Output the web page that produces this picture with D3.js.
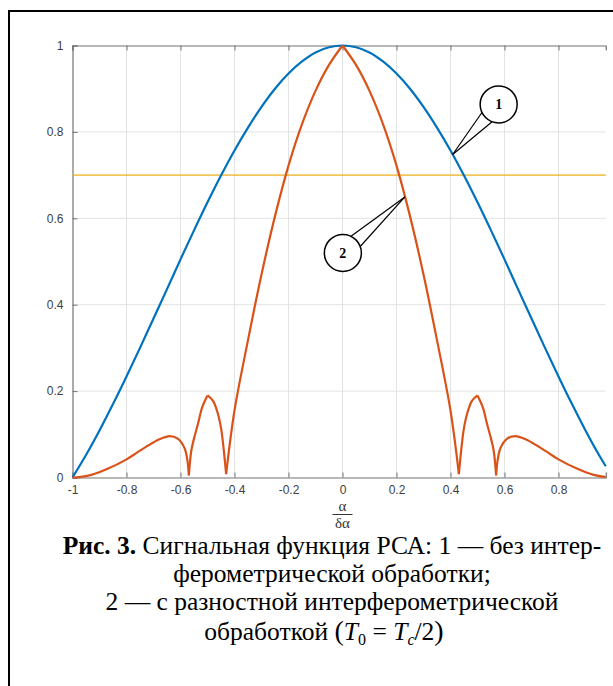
<!DOCTYPE html>
<html><head><meta charset="utf-8">
<script src="https://cdn.jsdelivr.net/npm/d3@7"></script>
<style>body{margin:0;background:#fff}svg{display:block}</style>
</head><body><svg id="c" width="613" height="686"></svg>
<script>
// ---- data ----
const blueX = [-1,-0.95,-0.9,-0.85,-0.8,-0.75,-0.7,-0.65,-0.6,-0.55,-0.5,-0.45,-0.4,-0.35,-0.3,-0.25,-0.2,-0.15,-0.1,-0.05,0,
  0.05,0.1,0.15,0.2,0.25,0.3,0.35,0.4,0.45,0.5,0.55,0.6,0.65,0.7,0.75,0.8,0.85,0.9,0.95,0.975];
const blueY = [0,0.052,0.109,0.170,0.234,0.300,0.368,0.436,0.505,0.572,0.637,0.699,0.757,0.810,0.858,0.900,0.935,0.963,0.984,0.996,1,
  0.996,0.984,0.963,0.935,0.900,0.858,0.810,0.757,0.699,0.637,0.572,0.505,0.436,0.368,0.300,0.234,0.170,0.109,0.052,0.026];
const orangeX = [-1,-0.975,-0.93,-0.87,-0.8,-0.76,-0.72,-0.68,-0.64,-0.61,-0.585,-0.575,-0.569,-0.56,-0.55,-0.535,-0.52,-0.5,-0.48,-0.465,-0.45,-0.44,-0.431,
  -0.4,-0.35,-0.3,-0.25,-0.2,-0.15,-0.1,-0.05,0,0.05,0.1,0.15,0.2,0.25,0.3,0.35,0.4,
  0.431,0.44,0.45,0.465,0.48,0.5,0.52,0.535,0.55,0.56,0.569,0.575,0.585,0.61,0.64,0.68,0.72,0.76,0.8,0.87,0.93,0.975];
const orangeY = [0,0.001,0.006,0.02,0.042,0.058,0.074,0.088,0.096,0.09,0.068,0.042,0.005,0.062,0.09,0.125,0.162,0.19,0.178,0.155,0.115,0.065,0.008,
  0.155,0.318,0.47,0.605,0.722,0.818,0.895,0.955,1,0.955,0.895,0.818,0.722,0.605,0.47,0.318,0.155,
  0.008,0.065,0.115,0.155,0.178,0.19,0.162,0.125,0.09,0.062,0.005,0.042,0.068,0.09,0.096,0.088,0.074,0.058,0.042,0.02,0.006,0.001];
const orangeCusps = [-0.569,-0.5,-0.431,0,0.431,0.5,0.569];
const levelValue = 0.7;
const xDomain = [-1, 0.975];
const xTickValues = [-1,-0.8,-0.6,-0.4,-0.2,0,0.2,0.4,0.6,0.8];
const yTickValues = [0,0.2,0.4,0.6,0.8,1];
const callouts = [{label:"1", series:"blue", x:0.408, dx:46, dy:-50},
                  {label:"2", series:"orange", x:0.231, dx:-62, dy:56}];
const captionLine1Bold = "Рис. 3.";
const captionLines = [" Сигнальная функция РСА: 1 — без интер-",
  "ферометрической обработки;",
  "2 — с разностной интерферометрической",
  "обработкой "];

// ---- layout ----
const svg = d3.select("#c");
const L = 72.5, R = 605.75, T = 45.5, B = 477.5;
const x = d3.scaleLinear().domain(xDomain).range([L, R]);
const y = d3.scaleLinear().domain([0,1]).range([B, T]);
const C = {blue:"#0072BD", orange:"#D95319", yellow:"#EDB120"};
const fmt = d => String(d).replace("\u2212","-");

// outer frame
svg.append("rect").attr("x",9).attr("y",11).attr("width",700).attr("height",800)
  .attr("fill","none").attr("stroke","#000").attr("stroke-width",2);

// grid
const g = svg.append("g");
g.selectAll(".gx").data(xTickValues.filter(d=>d!==xDomain[0])).join("line")
  .attr("x1",d=>x(d)).attr("x2",d=>x(d)).attr("y1",T).attr("y2",B)
  .attr("stroke","#e3e3e3").attr("stroke-width",1);
g.selectAll(".gy").data(yTickValues.filter(d=>d>0&&d<1)).join("line")
  .attr("x1",L).attr("x2",R).attr("y1",d=>y(d)).attr("y2",d=>y(d))
  .attr("stroke","#e3e3e3").attr("stroke-width",1);

// axes
const axCol = "#737373";
const xb = svg.append("g").attr("transform",`translate(0,${B})`)
  .call(d3.axisBottom(x).tickValues(xTickValues).tickSize(-5).tickPadding(8).tickFormat(fmt));
const xt = svg.append("g").attr("transform",`translate(0,${T})`)
  .call(d3.axisTop(x).tickValues(xTickValues).tickSize(-5).tickFormat(""));
const yl = svg.append("g").attr("transform",`translate(${L},0)`)
  .call(d3.axisLeft(y).tickValues(yTickValues).tickSize(-5).tickPadding(9).tickFormat(fmt));
[xb,xt,yl].forEach(a=>{
  a.select(".domain").attr("stroke",axCol).attr("stroke-width",1.2);
  a.selectAll(".tick line").attr("stroke",axCol);
  a.selectAll("text").attr("fill","#404040").attr("font-family","Liberation Sans, Arial, sans-serif").attr("font-size",12);
});
xb.selectAll(".tick line").filter(d=>d===xDomain[0]).remove();

// lines
const pts = (xs, ys) => xs.map((v,i)=>[v, ys[i]]);
const line = d3.line().x(d=>x(d[0])).y(d=>y(d[1])).curve(d3.curveCatmullRom.alpha(0.5));
const plot = svg.append("g");
plot.append("line").attr("x1",L).attr("x2",R).attr("y1",y(levelValue)).attr("y2",y(levelValue))
  .attr("stroke",C.yellow).attr("stroke-opacity",0.75).attr("stroke-width",1.6);
plot.append("path").attr("d",line(pts(blueX,blueY))).attr("fill","none")
  .attr("stroke",C.blue).attr("stroke-width",2.2);
// orange split at cusps
const op = pts(orangeX, orangeY);
const segs = [];
let cur = [];
op.forEach(p=>{
  cur.push(p);
  if (orangeCusps.includes(p[0])) { segs.push(cur); cur=[p]; }
});
segs.push(cur);
segs.filter(s=>s.length>1).forEach(s=>{
  plot.append("path").attr("d",line(s)).attr("fill","none")
    .attr("stroke",C.orange).attr("stroke-width",2.2).attr("stroke-linejoin","round");
});

// callouts
const interp = (xs, ys, v) => {
  for (let i=1;i<xs.length;i++) if (v<=xs[i]) { const t=(v-xs[i-1])/(xs[i]-xs[i-1]); return ys[i-1]+t*(ys[i]-ys[i-1]); }
  return ys[ys.length-1];
};
callouts.forEach(c=>{
  const ys = c.series==="blue"?blueY:orangeY, xs = c.series==="blue"?blueX:orangeX;
  const tx = x(c.x), ty = y(interp(xs, ys, c.x));
  const cx = tx + c.dx, cy = ty + c.dy, r = 18.5;
  const ang = Math.atan2(ty-cy, tx-cx);
  [-0.38, 0.38].forEach(a=>{
    svg.append("line").attr("x1",tx).attr("y1",ty)
      .attr("x2",cx+r*Math.cos(ang+a)).attr("y2",cy+r*Math.sin(ang+a))
      .attr("stroke","#000").attr("stroke-width",1.2);
  });
  svg.append("circle").attr("cx",cx).attr("cy",cy).attr("r",r)
    .attr("fill","#fff").attr("stroke","#000").attr("stroke-width",1.5);
  svg.append("text").attr("x",cx).attr("y",cy+5).attr("text-anchor","middle")
    .attr("font-family","Liberation Serif, Times New Roman, serif").attr("font-weight","bold")
    .attr("font-size",14).text(c.label);
});

// x label fraction
const fx = x(0);
const serif = "Liberation Serif, Times New Roman, serif";
svg.append("text").attr("x",fx).attr("y",511).attr("text-anchor","middle")
  .attr("font-family",serif).attr("font-size",15).attr("fill","#333").text("α");
svg.append("line").attr("x1",fx-10).attr("x2",fx+10).attr("y1",514.5).attr("y2",514.5)
  .attr("stroke","#333").attr("stroke-width",1);
svg.append("text").attr("x",fx).attr("y",527.5).attr("text-anchor","middle")
  .attr("font-family",serif).attr("font-size",15).attr("fill","#333").text("δα");

// caption
const capX = 332;
const cap = svg.append("g").attr("font-family",serif).attr("font-size",25.5).attr("fill","#000").attr("text-anchor","middle");
const l1 = cap.append("text").attr("x",capX).attr("y",554);
l1.append("tspan").attr("font-weight","bold").text(captionLine1Bold);
l1.append("tspan").text(captionLines[0]);
cap.append("text").attr("x",capX).attr("y",582).text(captionLines[1]);
cap.append("text").attr("x",capX).attr("y",610).text(captionLines[2]);
const l4 = cap.append("text").attr("x",capX - 8).attr("y",639.5);
l4.append("tspan").text(captionLines[3]);
l4.append("tspan").attr("font-size",28).text("(");
l4.append("tspan").attr("font-style","italic").text("T");
l4.append("tspan").attr("font-size",16).attr("dy",5).text("0");
l4.append("tspan").attr("dy",-5).text(" = ");
l4.append("tspan").attr("font-style","italic").text("T");
l4.append("tspan").attr("font-style","italic").attr("font-size",16).attr("dy",5).text("c");
l4.append("tspan").attr("dy",-5).text("/2");
l4.append("tspan").attr("font-size",28).text(")");
</script></body></html>
